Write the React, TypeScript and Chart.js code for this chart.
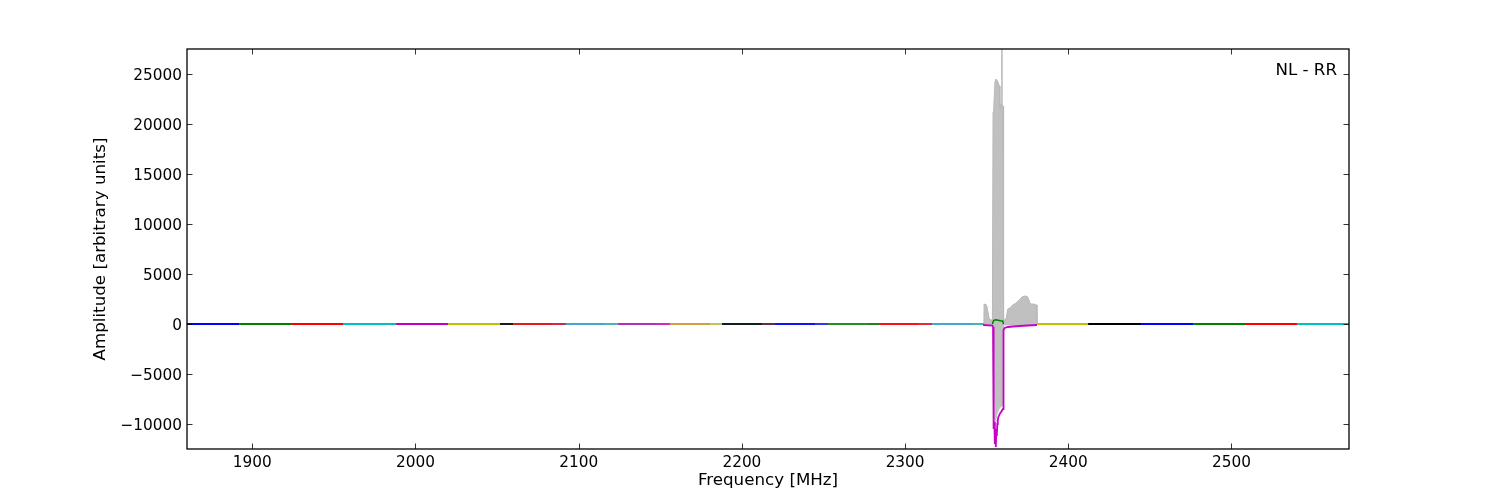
import React, { useEffect, useRef } from 'react';
import { Chart, registerables } from 'chart.js';
Chart.register(...registerables);

const xTicks = [1900, 2000, 2100, 2200, 2300, 2400, 2500];
const yTicks = [-10000, -5000, 0, 5000, 10000, 15000, 20000, 25000];

// baseline subband pieces (MHz)
const segStart = [1860, 1891.9, 1924.3, 1955.6, 1988.1, 2019.9, 2051.8, 2059.8, 2084.3, 2092.2, 2116.1, 2124.1, 2148.0, 2156.0, 2180.5, 2187.8, 2212.3, 2220.3, 2244.8, 2252.8, 2276.1, 2284.0, 2308.5, 2316.5, 2341.0, 2380.8, 2412.1, 2444.6, 2476.4, 2508.3, 2540.1];
const segEnd = [1891.9, 1924.3, 1955.6, 1988.1, 2019.9, 2051.8, 2059.8, 2084.3, 2092.2, 2116.1, 2124.1, 2148.0, 2156.0, 2180.5, 2187.8, 2212.3, 2220.3, 2244.8, 2252.8, 2276.1, 2284.0, 2308.5, 2316.5, 2341.0, 2348.4, 2412.1, 2444.6, 2476.4, 2508.3, 2540.1, 2572];
const segLevel = [0, 0, 0, 0, 0, 0, 0, 0, 0, 0, 0, 0, 0, 0, 0, 0, 0, 0, 0, 0, 0, 0, 0, 0, 0, 0, 0, 0, 0, 0, 0];
const segColors = ['#0000ff', '#008000', '#ff0000', '#00bfbf', '#bf00bf', '#bfbf00', '#000000', '#e41a1c', '#c0143c', '#40a8d0', '#30b0a8', '#b030b8', '#d010c0', '#d0a040', '#b8c040', '#102020', '#501828', '#1010ff', '#2020e0', '#209020', '#107010', '#ff1010', '#e01030', '#40a8d0', '#30b0a0', '#bfbf00', '#000000', '#0000ff', '#008000', '#ff0000', '#00bfbf'];

// grey envelope around the RFI feature
const grayFreq = [2348.3, 2348.4, 2349.9, 2350.8, 2351.4, 2352.5, 2353.5, 2353.9, 2354.3, 2354.5, 2355.1, 2355.7, 2356.3, 2356.9, 2357.5, 2357.8, 2358.1, 2358.6, 2359.2, 2359.3, 2359.4, 2359.6, 2360.0, 2360.1, 2360.6, 2362.0, 2362.9, 2364.1, 2366.0, 2368.0, 2370.0, 2371.6, 2373.3, 2374.9, 2375.9, 2376.8, 2378.6, 2380.7, 2380.8];
const grayUpper = [0, 2000, 1900, 1200, 600, 400, 400, 21200, 21500, 22300, 24300, 24500, 24400, 24200, 23900, 23800, 21500, 22000, 22000, 60000, 22000, 22000, 21800, 500, 300, 600, 1500, 1600, 1900, 2100, 2400, 2700, 2800, 2750, 2400, 2000, 2000, 1900, 0];
const grayLower = [0, -100, -100, -100, -100, -100, -100, -300, -9000, -9500, -9800, -9500, -9000, -8700, -8500, -8400, -8300, -8300, -8200, -8200, -8200, -8100, -8000, -300, -100, -100, -100, -100, -100, -100, -100, -100, -100, -100, -100, -100, -100, -100, 0];

// magenta subband
const magFreq = [2347.8, 2353.5, 2353.9, 2354.1, 2354.4, 2354.7, 2355.0, 2355.3, 2355.6, 2355.9, 2356.2, 2356.5, 2356.8, 2357.2, 2357.7, 2358.3, 2358.9, 2359.5, 2360.0, 2360.3, 2361.0, 2363.0, 2366.0, 2370.0, 2375.0, 2380.8];
const magVals = [-100, -150, -300, -9500, -10500, -9800, -12000, -11000, -12300, -10500, -11200, -10000, -9600, -9300, -9100, -8900, -8800, -8600, -8500, -600, -400, -300, -250, -200, -150, -100];

// green subband bump
const greenFreq = [2353.5, 2354.2, 2355.5, 2357.0, 2358.5, 2359.8, 2360.3];
const greenVals = [0, 350, 420, 380, 330, 300, 0];

const annotation = 'NL - RR';
const FONT = '"DejaVu Sans", sans-serif';

const framePlugin = {
  id: 'frameTicks',
  afterDraw(chart: any) {
    const { ctx, chartArea } = chart;
    const { left, right, top, bottom } = chartArea;
    const xs = chart.scales.x;
    const ys = chart.scales.y;
    ctx.save();
    ctx.strokeStyle = '#000';
    ctx.lineWidth = 0.8;
    const tl = 5.5;
    ctx.beginPath();
    for (const v of xTicks) {
      const px = Math.round(xs.getPixelForValue(v)) + 0.5;
      ctx.moveTo(px, bottom); ctx.lineTo(px, bottom - tl);
      ctx.moveTo(px, top); ctx.lineTo(px, top + tl);
    }
    for (const v of yTicks) {
      const py = Math.round(ys.getPixelForValue(v)) + 0.5;
      ctx.moveTo(left, py); ctx.lineTo(left + tl, py);
      ctx.moveTo(right, py); ctx.lineTo(right - tl, py);
    }
    ctx.stroke();
    ctx.lineWidth = 1.3;
    ctx.strokeRect(left, top, right - left, bottom - top);
    ctx.fillStyle = '#000';
    ctx.font = `16.7px ${FONT}`;
    ctx.textAlign = 'right';
    ctx.textBaseline = 'middle';
    ctx.fillText(annotation, right - 12, 71);
    ctx.restore();
  },
};

export default function App() {
  const ref = useRef<HTMLCanvasElement | null>(null);
  useEffect(() => {
    if (!ref.current) return;
    Chart.defaults.font.family = FONT;
    const datasets: any[] = [];
    datasets.push({
      data: grayFreq.map((f, i) => ({ x: f, y: grayUpper[i] })),
      borderColor: '#b8b8b8', borderWidth: 1, backgroundColor: '#c0c0c0',
      fill: 1, pointRadius: 0, order: 10,
    });
    datasets.push({
      data: grayFreq.map((f, i) => ({ x: f, y: grayLower[i] })),
      borderColor: '#c0c0c0', borderWidth: 1, fill: false, pointRadius: 0, order: 10,
    });
    segStart.forEach((s, i) => {
      datasets.push({
        data: [{ x: s, y: segLevel[i] }, { x: segEnd[i], y: segLevel[i] }],
        borderColor: segColors[i], borderWidth: 1.8, fill: false, pointRadius: 0, order: 5,
      });
    });
    datasets.push({
      data: magFreq.map((f, i) => ({ x: f, y: magVals[i] })),
      borderColor: '#c800c8', borderWidth: 1.8, fill: false, pointRadius: 0, order: 2,
    });
    datasets.push({
      data: greenFreq.map((f, i) => ({ x: f, y: greenVals[i] })),
      borderColor: '#008000', borderWidth: 1.5, fill: false, pointRadius: 0, order: 1,
    });

    const chart = new Chart(ref.current, {
      type: 'line',
      data: { datasets },
      plugins: [framePlugin],
      options: {
        animation: false,
        responsive: false,
        devicePixelRatio: 1,
        layout: { padding: { left: 0, top: 49, right: 151, bottom: 0 } },
        plugins: { legend: { display: false }, tooltip: { enabled: false } },
        elements: { line: { tension: 0 } },
        scales: {
          x: {
            type: 'linear', min: 1860, max: 2572,
            grid: { display: false, drawTicks: false }, border: { display: false },
            afterBuildTicks: (s: any) => { s.ticks = xTicks.map((v) => ({ value: v })); },
            afterFit: (s: any) => { s.height = 51; },
            ticks: { color: '#000', padding: 5, font: { size: 15.3 }, maxRotation: 0, autoSkip: false, callback: (v: any) => String(v) },
            title: { display: true, text: 'Frequency [MHz]', color: '#000', font: { size: 16.7 }, padding: { top: 0, bottom: 9 } },
          },
          y: {
            type: 'linear', min: -12500, max: 27500,
            grid: { display: false, drawTicks: false }, border: { display: false },
            afterBuildTicks: (s: any) => { s.ticks = yTicks.map((v) => ({ value: v })); },
            afterFit: (s: any) => { s.width = 187; },
            ticks: { color: '#000', padding: 5, labelOffset: 2, font: { size: 15.3 }, callback: (v: any) => (v < 0 ? '\u2212' + Math.abs(v) : String(v)) },
            title: { display: true, text: 'Amplitude [arbitrary units]', color: '#000', font: { size: 16.7 }, padding: { top: 91, bottom: 0 } },
          },
        },
      },
    });
    return () => chart.destroy();
  }, []);
  return (
    <div style={{ position: 'absolute', left: 0, top: 0, width: 1500, height: 500, background: '#fff' }}>
      <canvas ref={ref} width={1500} height={500} style={{ width: 1500, height: 500 }} />
    </div>
  );
}
